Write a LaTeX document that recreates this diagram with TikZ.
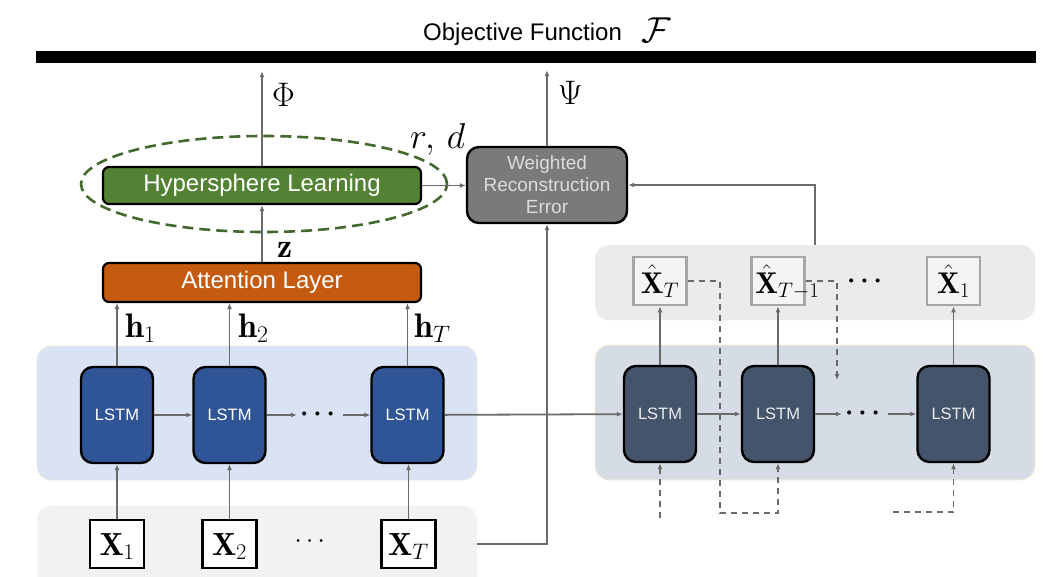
\RequirePackage{fix-cm}
\documentclass[tikz,border=0pt]{standalone}
\usepackage{amsmath}
\usepackage{fontspec}
\setsansfont{Liberation Sans}
\usetikzlibrary{arrows.meta,shapes.geometric,calc}

\definecolor{hypgreen}{HTML}{548235}
\definecolor{ringgreen}{HTML}{44692C}
\definecolor{attorange}{HTML}{C55A11}
\definecolor{encblue}{HTML}{2F5597}
\definecolor{decslate}{HTML}{44546A}
\definecolor{wregray}{HTML}{7A7A7A}
\definecolor{wretext}{HTML}{DCDCDC}
\definecolor{encpanel}{HTML}{DAE3F3}
\definecolor{encedge}{HTML}{E2EFD9}
\definecolor{decpanel}{HTML}{D6DCE5}
\definecolor{decedge}{HTML}{FFF2CC}
\definecolor{inpanel}{HTML}{F2F2F2}
\definecolor{outpanel}{HTML}{EBEBEB}
\definecolor{wire}{HTML}{6A6A6A}
\definecolor{hatborder}{HTML}{A6A6A6}
\definecolor{hatfill}{HTML}{F4F4F4}

\begin{document}
\begin{tikzpicture}[x=1pt,y=-1pt,
  panel/.style={rounded corners=14pt, inner sep=0pt, line width=0.6pt},
  block/.style={draw=black, line width=2.2pt, rounded corners=6pt, inner sep=0pt,
    minimum width=318pt, text=white, font=\sffamily\fontsize{24}{28}\selectfont},
  cell/.style={draw=black, line width=2.4pt, rounded corners=12pt, inner sep=0pt,
    minimum width=72pt, minimum height=96pt, font=\sffamily\fontsize{16.5}{20}\selectfont},
  inbox/.style={draw=black, line width=2.2pt, fill=white, inner sep=0pt,
    minimum width=54pt, minimum height=48pt, text height=22pt, text depth=0pt,
    font=\fontsize{32}{38}\selectfont},
  hatbox/.style={draw=hatborder, line width=2.6pt, fill=hatfill, inner sep=0pt,
    minimum width=53pt, minimum height=48pt, text height=24pt, text depth=0pt,
    font=\fontsize{30}{36}\selectfont},
  mlabel/.style={inner sep=0pt, anchor=base west, font=\fontsize{34}{40}\selectfont},
  dotsrow/.style={inner sep=0pt, minimum width=46pt, font=\fontsize{26}{30}\selectfont},
  flow/.style={draw=wire, line width=1.8pt, -{Latex[length=6pt,width=5pt]}},
  feed/.style={flow, dash pattern=on 6pt off 5pt},
]
\useasboundingbox (0,0) rectangle (1052,576);

% objective function and its bar
\node[inner sep=0pt, anchor=base west, font=\sffamily\fontsize{24}{28}\selectfont] (title) at (423,40) {Objective Function};
\node[inner sep=0pt, anchor=base west, font=\fontsize{36}{40}\selectfont] (objF) at (641,42) {$\mathcal{F}$};
\node[fill=black, inner sep=0pt, minimum width=1000pt, minimum height=12pt] (objbar) at (536,57) {};

% background panels
\node[panel, fill=encpanel, draw=encedge, minimum width=440pt, minimum height=134pt] (encbg) at (257,413) {};
\node[panel, fill=inpanel, draw=none, minimum width=440pt, minimum height=90pt] (inbg) at (257,551) {};
\node[panel, fill=decpanel, draw=decedge, minimum width=440pt, minimum height=135pt] (decbg) at (815,412.5) {};
\node[panel, fill=outpanel, draw=none, minimum width=440pt, minimum height=75pt] (outbg) at (815,282.5) {};

% upper blocks
\node[block, fill=hypgreen, minimum height=37pt] (hyp) at (262,185.5) {Hypersphere Learning};
\node[block, fill=attorange, minimum height=39pt] (att) at (262,282.5) {Attention Layer};
\node[draw=black, line width=2.4pt, rounded corners=12pt, fill=wregray, inner sep=0pt,
      minimum width=160pt, minimum height=76pt, text=wretext, align=center,
      font=\sffamily\fontsize{19}{22}\selectfont] (wre) at (547,185) {Weighted\\Reconstruction\\Error};
\node[ellipse, draw=ringgreen, line width=2.6pt, dash pattern=on 11pt off 6pt,
      minimum width=366pt, minimum height=96pt, inner sep=0pt] (sphere) at (264,184) {};

% encoder cells and inputs
\node[cell, fill=encblue, text=white] (enc1) at (117,415) {LSTM};
\node[cell, fill=encblue, text=white] (enc2) at (229.5,415) {LSTM};
\node[cell, fill=encblue, text=white] (enc3) at (407.5,415) {LSTM};
\node[dotsrow] (encdots) at (320,414) {$\boldsymbol{\cdots}$};

\node[inbox] (x1) at (117,544) {$\mathbf{X}_1$};
\node[inbox] (x2) at (229.5,544) {$\mathbf{X}_2$};
\node[inbox] (x3) at (408.5,544) {$\mathbf{X}_T$};
\node[dotsrow] (xdots) at (312,542) {$\cdots$};

% decoder cells and reconstructions
\node[cell, fill=decslate, text=white!92!black] (dec1) at (660,414) {LSTM};
\node[cell, fill=decslate, text=white!92!black] (dec2) at (778,414) {LSTM};
\node[cell, fill=decslate, text=white!92!black] (dec3) at (953.5,414) {LSTM};
\node[dotsrow] (decdots) at (865,413) {$\boldsymbol{\cdots}$};

\node[hatbox] (hat1) at (660,281) {$\hat{\mathbf{X}}_T$};
\node[hatbox] (hat2) at (778,281) {};
\node[hatbox] (hat3) at (953.5,281) {$\hat{\mathbf{X}}_1$};
\node[dotsrow] (hatdots) at (867,281) {$\boldsymbol{\cdots}$};

% math labels
\node[mlabel] (phi) at (272,106) {$\Phi$};
\node[mlabel] (psi) at (558,104) {$\Psi$};
\node[mlabel, font=\fontsize{36}{40}\selectfont] (rd) at (410,148) {$r,\,d$};
\node[mlabel] (zlab) at (277,257) {$\mathbf{z}$};
\node[mlabel] (h1lab) at (125,337) {$\mathbf{h}_1$};
\node[mlabel] (h2lab) at (238,337) {$\mathbf{h}_2$};
\node[mlabel] (hTlab) at (414,337) {$\mathbf{h}_T$};

% bend points of the feedback wires
\coordinate (bendA) at (720,513);
\coordinate (stubB) at (837,380);
\coordinate (feedC) at (893,512);
\coordinate (feedD) at (660,518);

% connectors
\draw[flow, shorten >=8pt] (hyp) -- (hyp |- objbar.south);
\draw[flow, shorten >=7pt] (wre) -- (wre |- objbar.south);
\draw[flow] (att) -- (hyp);
\draw[flow] (hyp.east) -- (wre.west |- hyp.east);
\draw[flow] (outbg.north) |- (wre.east);
\draw[flow] (inbg.east |- x3) -| (wre.south);

\foreach \c in {1,2,3} {
  \draw[flow] (x\c) -- (x\c |- enc\c.south);
  \draw[flow] (enc\c) -- (enc\c |- att.south);
  \draw[flow] (dec\c) -- (hat\c);
}
\draw[flow] (enc1) -- (enc2);
\draw[flow] (enc2) -- (encdots.west |- enc2);
\draw[flow] (encdots.east |- enc3) -- (enc3);
\draw[flow] (enc3) -- (dec1);
\draw[flow] (dec1) -- (dec2);
\draw[flow] (dec2) -- (decdots.west |- dec2);
\draw[flow] (decdots.east |- dec3) -- (dec3);

\draw[feed] (hat1.east) -| (bendA) -| (dec2.south);
\draw[feed] (hat2.east) -| (stubB);
\draw[feed] (feedC) -| (dec3.south);
\draw[feed] (feedD) -- (dec1.south);

% label that runs past its box
\node[inner sep=0pt, anchor=base west, font=\fontsize{30}{36}\selectfont] (hat2txt)
  at ($(hat2.west)+(5,12)$) {$\hat{\mathbf{X}}_{T-1}$};
\end{tikzpicture}
\end{document}
